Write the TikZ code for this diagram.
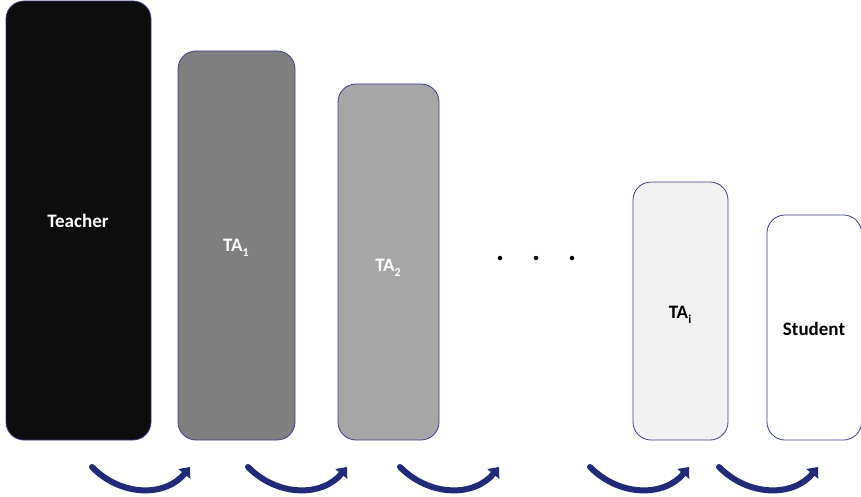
\documentclass[tikz,border=0pt]{standalone}
\usepackage{fontspec}
\setmainfont{Carlito}
\usetikzlibrary{arrows.meta,calc}
\definecolor{edge}{HTML}{3B3F8F}
\definecolor{arr}{HTML}{202A78}
\definecolor{c1}{HTML}{0D0D0D}
\definecolor{c2}{HTML}{7F7F7F}
\definecolor{c3}{HTML}{A6A6A6}
\definecolor{c4}{HTML}{F2F2F2}
\newcommand{\lowsub}[1]{\raisebox{-5pt}{\fontsize{12}{14}\selectfont #1}}
\tikzset{
  bar/.style={draw=edge, line width=0.8pt, rounded corners=18pt},
  lbl/.style={font=\fontsize{19}{22}\selectfont\bfseries, inner sep=0pt},
  flow/.style={draw=arr, line width=6pt, line cap=round, -{Triangle[length=9pt,width=15pt]}},
  dot/.style={circle, fill=black, inner sep=0pt, minimum size=4.5pt}
}
\begin{document}
\begin{tikzpicture}[x=1pt,y=-1pt]
\useasboundingbox (0,0) rectangle (861,497);
\path[bar, fill=c1] (6,1) rectangle (151,440);
\path[bar, fill=c2] (178,51) rectangle (295,440);
\path[bar, fill=c3] (338,84) rectangle (439,440);
\path[bar, fill=c4] (633,182) rectangle (728,440);
\path[bar, fill=white] (767,215) rectangle (861.5,440);
\node[lbl, text=white] (teacher) at (78,221) {Teacher};
\node[lbl, text=white, anchor=base] (ta1) at (236,251) {TA\lowsub{1}};
\node[lbl, text=white, anchor=base] (ta2) at (388,271) {TA\lowsub{2}};
\node[lbl, text=black, anchor=base] (tai) at (680,318) {TA\lowsub{i}};
\node[lbl, text=black] (student) at (814,329) {Student};
\node[dot] (d1) at (500,258) {};
\node[dot] (d2) at (536,258) {};
\node[dot] (d3) at (572,258) {};
\foreach \s/\e [count=\i] in {92/190, 248/347, 400/499, 590/689, 719/818} {
  \coordinate (a\i) at (\s,467);
  \coordinate (b\i) at (\e,467);
  \draw[flow] (a\i) .. controls ($(a\i)!0.3!(b\i)+(0,30)$) and ($(a\i)!0.75!(b\i)+(0,30)$) .. (b\i);
}
\end{tikzpicture}
\end{document}
